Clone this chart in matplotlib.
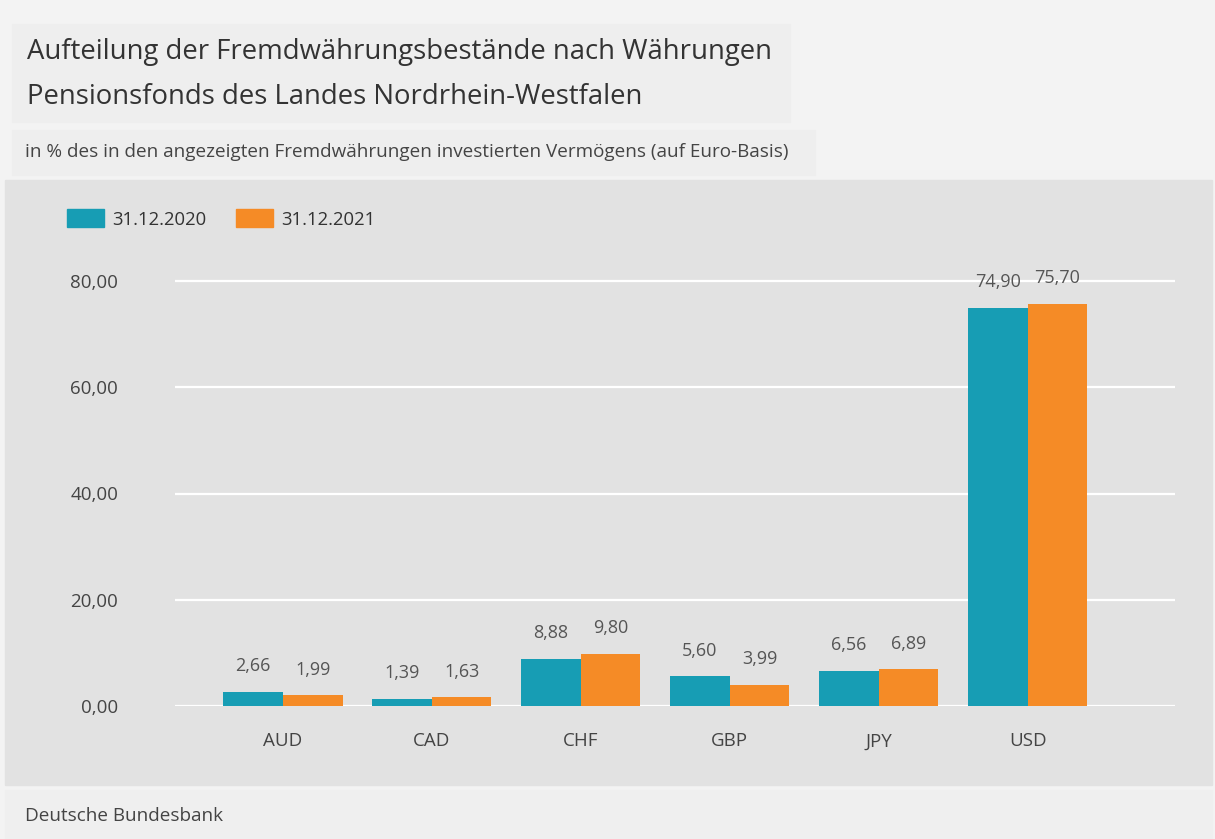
import numpy as np
import matplotlib.pyplot as plt
from matplotlib.patches import Rectangle, Patch

# data
currencies = ["AUD", "CAD", "CHF", "GBP", "JPY", "USD"]
share_2020 = [2.66, 1.39, 8.88, 5.60, 6.56, 74.90]
share_2021 = [1.99, 1.63, 9.80, 3.99, 6.89, 75.70]
series_labels = ["31.12.2020", "31.12.2021"]
y_ticks = [0, 20, 40, 60, 80]

teal = '#179db4'
orange = '#f58b26'
plt.rcParams['font.family'] = ['Open Sans', 'DejaVu Sans']


def fmt(v):
    return f"{v:.2f}".replace('.', ',')


fig = plt.figure(figsize=(12.15, 8.39), dpi=100)
fig.patch.set_facecolor('#f3f3f3')
W, H = 1215, 839

# background boxes (pixel coords -> figure fraction)
def box(x0, y0, x1, y1, color):
    fig.patches.append(Rectangle((x0 / W, 1 - y1 / H), (x1 - x0) / W, (y1 - y0) / H,
                                 transform=fig.transFigure, color=color, zorder=-5))

box(12, 24, 790, 122, '#eeeeee')
box(12, 130, 815, 175, '#eeeeee')
box(5, 180, 1212, 785, '#e2e2e2')
box(5, 790, 1212, 839, '#efefef')

fig.text(27 / W, 1 - 52 / H, "Aufteilung der Fremdwährungsbestände nach Währungen",
         fontsize=19.8, color='#333333', va='center')
fig.text(27 / W, 1 - 97 / H, "Pensionsfonds des Landes Nordrhein-Westfalen",
         fontsize=19.8, color='#333333', va='center')
fig.text(25 / W, 1 - 152 / H,
         "in % des in den angezeigten Fremdwährungen investierten Vermögens (auf Euro-Basis)",
         fontsize=13.6, color='#444444', va='center')
fig.text(25 / W, 1 - 816 / H, "Deutsche Bundesbank", fontsize=13.6, color='#444444', va='center')

ax = fig.add_axes([175 / W, (H - 706) / H, 1000 / W, 446.25 / H])
ax.set_facecolor('none')
x = np.arange(len(currencies))
width = 0.4
b1 = ax.bar(x - width / 2, share_2020, width, color=teal, zorder=3)
b2 = ax.bar(x + width / 2, share_2021, width, color=orange, zorder=3)

for bars, vals in [(b1, share_2020), (b2, share_2021)]:
    for rect, v in zip(bars, vals):
        ax.annotate(fmt(v), (rect.get_x() + rect.get_width() / 2, v),
                    xytext=(0, 12), textcoords='offset points', ha='center', va='bottom',
                    fontsize=13, color='#555555', annotation_clip=False)

ax.set_xlim(-0.725, 5.99)
ax.set_ylim(0, 84)
ax.set_yticks(y_ticks)
ax.set_yticklabels([fmt(v) for v in y_ticks])
ax.set_xticks(x)
ax.set_xticklabels(currencies)
ax.tick_params(axis='both', length=0, labelsize=13.5, colors='#444444')
ax.tick_params(axis='y', pad=41)
ax.tick_params(axis='x', pad=19)
ax.grid(axis='y', color='white', linewidth=1.6, zorder=1)
for s in ax.spines.values():
    s.set_visible(False)

handles = [Patch(color=teal), Patch(color=orange)]
fig.legend(handles, series_labels, loc='center left', bbox_to_anchor=(50 / W, 1 - 219 / H),
           ncol=2, frameon=False, fontsize=13.3, handlelength=2.0, handleheight=1.1,
           columnspacing=1.6, handletextpad=0.45, labelcolor='#333333')

fig.savefig('out.png', dpi=100, facecolor=fig.get_facecolor())
